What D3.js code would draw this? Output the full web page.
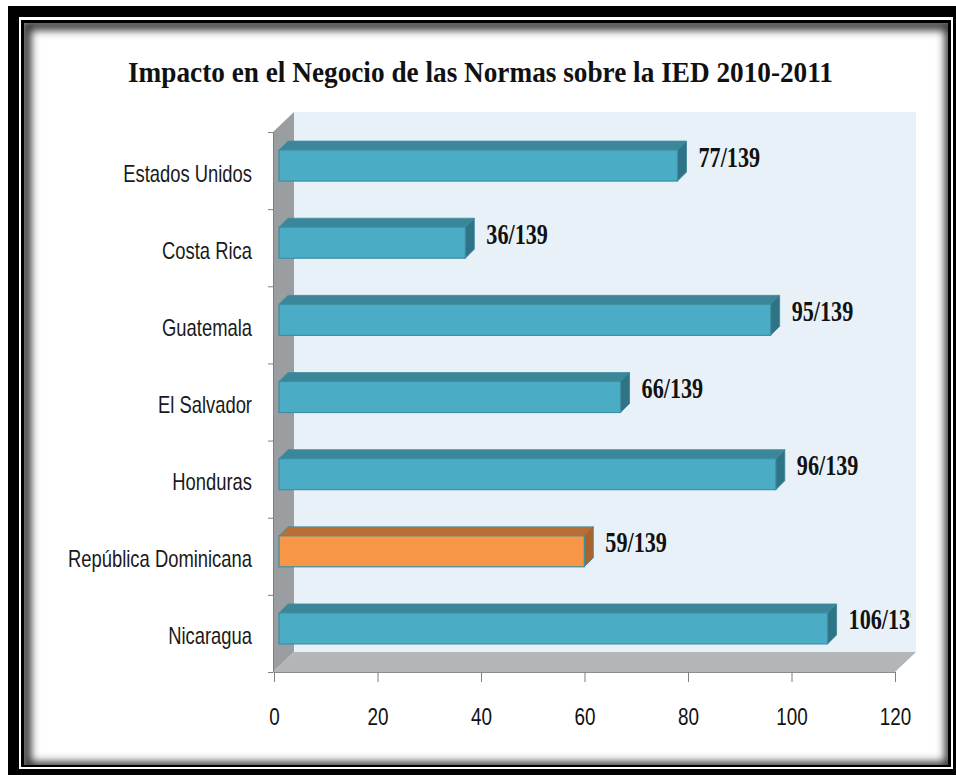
<!DOCTYPE html>
<html>
<head>
<meta charset="utf-8">
<script src="https://cdn.jsdelivr.net/npm/d3@7"></script>
<style>
    body { margin: 0; background: #fff; }
</style>
</head>
<body>
<div id="chart"></div>
<script>
// Data
const categories = ["Estados Unidos", "Costa Rica", "Guatemala", "El Salvador", "Honduras", "República Dominicana", "Nicaragua"];
const ranks = [77, 36, 95, 66, 96, 59, 106];
const totalCountries = 139;
const highlighted = "República Dominicana";
const xTicks = [0, 20, 40, 60, 80, 100, 120];
const title = "Impacto en el Negocio de las Normas sobre la IED 2010-2011";

document.addEventListener('DOMContentLoaded', () => {

    const width = 956, height = 775;
    const data = categories.map((c, i) => ({ name: c, value: ranks[i] }));

    const svg = d3.select("#chart")
        .append("svg")
        .attr("width", width)
        .attr("height", height);

    const defs = svg.append("defs");
    defs.append("clipPath").attr("id", "inner")
        .append("rect").attr("x", 24).attr("y", 23).attr("width", 924).attr("height", 742);
    defs.append("clipPath").attr("id", "plotclip")
        .append("rect").attr("x", 0).attr("y", 0).attr("width", 911).attr("height", height);
    defs.append("filter").attr("id", "blur")
        .attr("x", "-10%").attr("y", "-10%").attr("width", "120%").attr("height", "120%")
        .append("feGaussianBlur").attr("stdDeviation", 4);

    // Double black frame with inner shadow
    svg.append("rect").attr("x", 8).attr("y", 6).attr("width", 948).attr("height", 769).attr("fill", "#000");
    svg.append("rect").attr("x", 19).attr("y", 17).attr("width", 934).attr("height", 752).attr("fill", "#fff");
    svg.append("rect").attr("x", 21).attr("y", 20).attr("width", 930).attr("height", 747).attr("fill", "#000");
    svg.append("rect").attr("x", 24).attr("y", 23).attr("width", 924).attr("height", 742).attr("fill", "#fff");
    svg.append("g").attr("clip-path", "url(#inner)")
        .append("rect")
        .attr("x", 26).attr("y", 25).attr("width", 924).attr("height", 742)
        .attr("fill", "none")
        .attr("stroke", "#2a2a2a")
        .attr("stroke-width", 10)
        .attr("filter", "url(#blur)");

    // Title
    svg.append("text")
        .attr("x", 128)
        .attr("y", 82)
        .attr("textLength", 705)
        .attr("lengthAdjust", "spacingAndGlyphs")
        .style("font-family", "'Liberation Serif', serif")
        .style("font-weight", "bold")
        .style("font-size", "29px")
        .style("fill", "#111")
        .text(title);

    // Scales
    const x = d3.scaleLinear().domain([0, 120]).range([274, 895]);
    const y = d3.scaleBand().domain(categories).range([132, 672]);
    const yEdges = d3.scaleLinear().domain([0, categories.length]).range([672, 132]);

    // 3D box: depth offsets
    const depth = 21;
    const x0 = x(0) - 1, x1 = x(120), yTop = y.range()[0], yBot = y.range()[1];

    // back wall
    svg.append("rect")
        .attr("x", x0 + depth).attr("y", yTop - depth + 1)
        .attr("width", x1 - x0).attr("height", yBot - yTop)
        .attr("fill", "#e9f1f8");
    // left wall
    svg.append("polygon")
        .attr("points", [[x0, yTop], [x0 + depth, yTop - depth + 1], [x0 + depth, yBot - depth + 1], [x0, yBot]].join(" "))
        .attr("fill", "#9b9ea1");
    // floor
    svg.append("polygon")
        .attr("points", [[x0, yBot], [x0 + depth, yBot - depth + 1], [x1 + depth, yBot - depth + 1], [x1, yBot]].join(" "))
        .attr("fill", "#b3b6b9");

    // Axes
    const xAxis = svg.append("g")
        .attr("transform", `translate(0,${yBot})`)
        .call(d3.axisBottom(x).tickValues(xTicks).tickSize(10).tickPadding(9).tickSizeOuter(0));
    xAxis.select(".domain").attr("stroke", "#8c8c8c");
    xAxis.selectAll(".tick line").attr("stroke", "#7f7f7f");
    xAxis.selectAll(".tick text")
        .attr("y", 0)
        .attr("dy", 0)
        .attr("transform", "translate(0,53) scale(0.82,1)")
        .style("font-family", "'Liberation Sans', Arial, sans-serif")
        .style("font-size", "23px")
        .style("fill", "#111");

    const yAxis = svg.append("g")
        .attr("transform", `translate(${x0},0)`)
        .call(d3.axisLeft(yEdges).tickValues(d3.range(categories.length + 1)).tickFormat("").tickSize(5).tickSizeOuter(0));
    yAxis.select(".domain").attr("stroke", "#7f7f7f");
    yAxis.selectAll(".tick line").attr("stroke", "#7f7f7f");

    // Category labels
    svg.append("g")
        .selectAll("text")
        .data(data)
        .join("text")
        .attr("transform", d => `translate(252,${y(d.name) + y.bandwidth() / 2 + 11}) scale(0.8,1)`)
        .attr("text-anchor", "end")
        .style("font-family", "'Liberation Sans', Arial, sans-serif")
        .style("font-size", "23px")
        .style("fill", "#1a1a1a")
        .text(d => d.name);

    // 3D bars
    const d1 = 5, bd = 9, half = 15.5;
    const colors = {
        normal: { front: "#4bacc6", top: "#3b8799", side: "#2f7386" },
        accent: { front: "#f79646", top: "#b86f36", side: "#a9642d" }
    };

    svg.append("g")
        .selectAll("g")
        .data(data)
        .join("g")
        .each(function (d) {
            const g = d3.select(this);
            const c = d.name === highlighted ? colors.accent : colors.normal;
            const cy = y(d.name) + y.bandwidth() / 2 - d1;
            const xa = x(0) + d1, xb = x(d.value) + d1;
            const yt = cy - half, yb = cy + half;
            g.append("polygon")
                .attr("points", [[xa, yt], [xb, yt], [xb + bd, yt - bd], [xa + bd, yt - bd]].join(" "))
                .attr("fill", c.top).attr("stroke", "#3f8ea2").attr("stroke-width", 0.8);
            g.append("polygon")
                .attr("points", [[xb, yt], [xb + bd, yt - bd], [xb + bd, yb - bd], [xb, yb]].join(" "))
                .attr("fill", c.side).attr("stroke", "#3a8497").attr("stroke-width", 0.8);
            g.append("rect")
                .attr("x", xa).attr("y", yt)
                .attr("width", xb - xa).attr("height", yb - yt)
                .attr("fill", c.front).attr("stroke", "#3f8ea2").attr("stroke-width", 1.2);
        });

    // Value labels
    svg.append("g")
        .attr("clip-path", "url(#plotclip)")
        .selectAll("text")
        .data(data)
        .join("text")
        .attr("transform", d => `translate(${x(d.value) + 26},${y(d.name) + y.bandwidth() / 2 - 4}) scale(0.74,1)`)
        .style("font-family", "'Liberation Serif', serif")
        .style("font-weight", "bold")
        .style("font-size", "30px")
        .style("fill", "#111")
        .text(d => `${d.value}/${totalCountries}`);

});
</script>
</body>
</html>
